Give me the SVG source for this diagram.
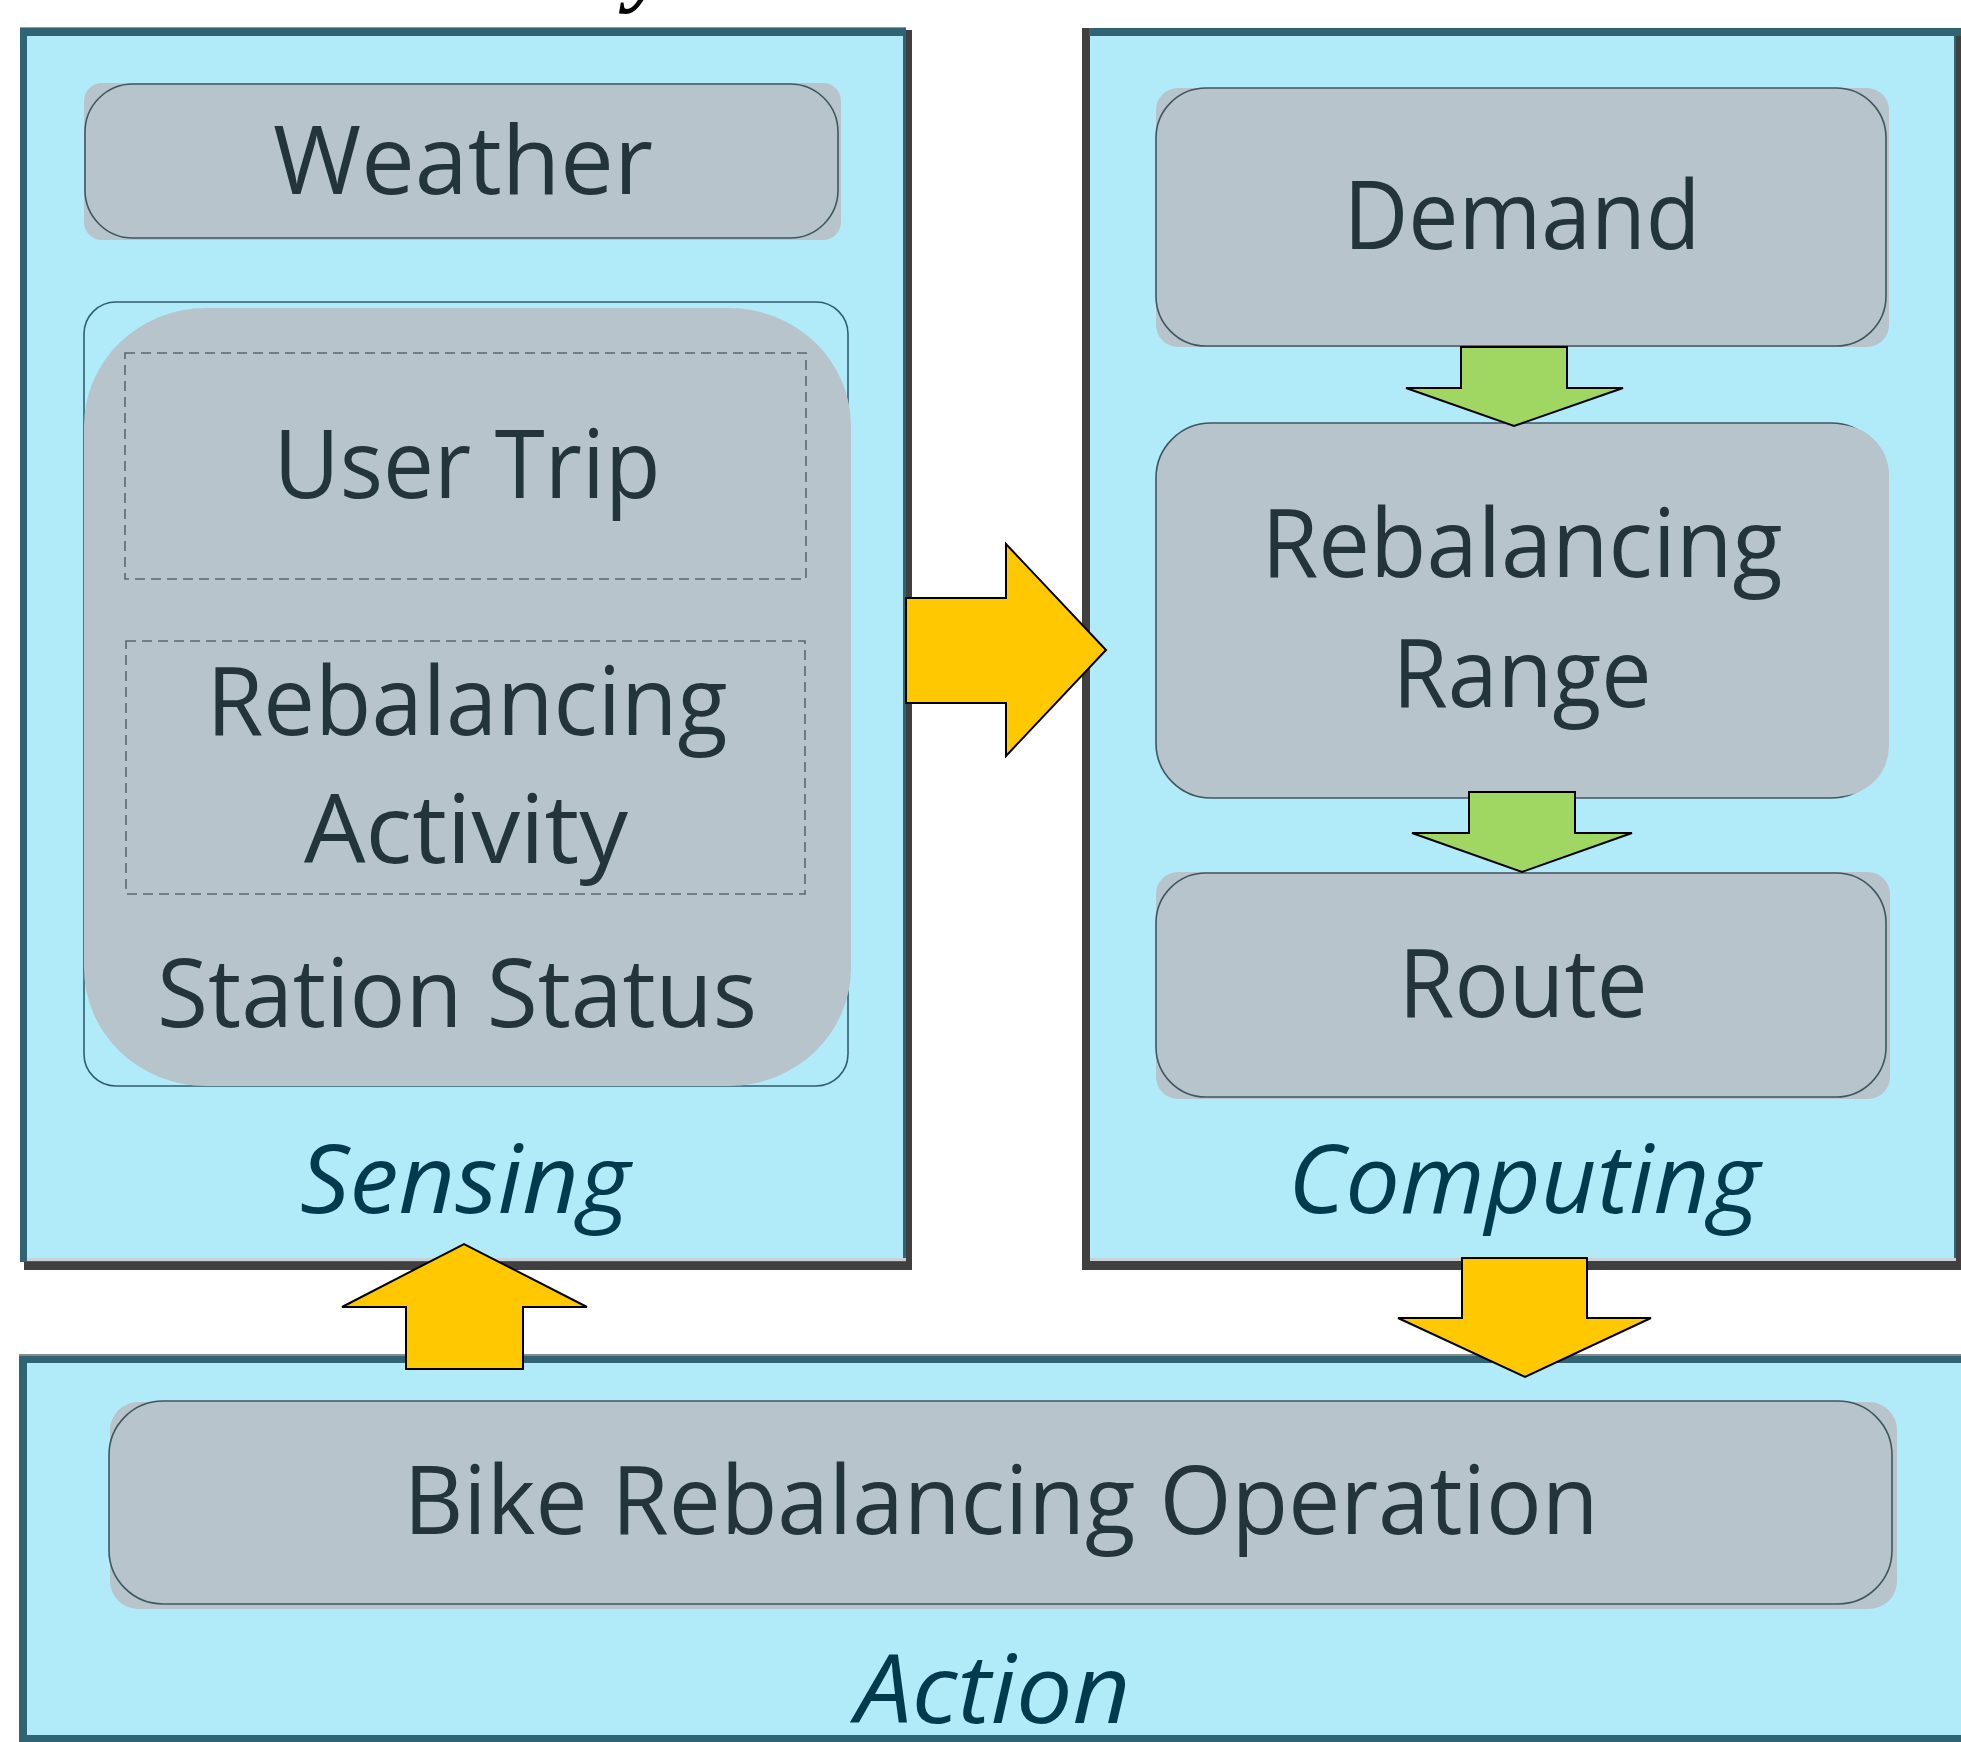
<svg xmlns="http://www.w3.org/2000/svg" width="1961" height="1742" viewBox="0 0 1961 1742">
<style>
.panelfill{fill:#b1ebfa}
.teal{fill:#2e6474}
.shadow{fill:#404040}
.bg{fill:#b7c4cc}
.box{fill:#b7c4cc;stroke:#3f5660;stroke-width:1.6}
.dash{fill:none;stroke:#5a6870;stroke-width:1.6;stroke-dasharray:10 6}
.t{font-family:"Open Sans","Noto Sans","DejaVu Sans",sans-serif;font-size:95px;fill:#24343b;text-anchor:middle}
.lbl{font-family:"Open Sans","Noto Sans","DejaVu Sans",sans-serif;font-size:95px;font-style:italic;fill:#003a4d;text-anchor:middle}
.ya{fill:#ffc800;stroke:#000;stroke-width:2;stroke-linejoin:miter}
.ga{fill:#a0d662;stroke:#000;stroke-width:2;stroke-linejoin:miter}
</style>
<rect x="0" y="0" width="1961" height="1742" fill="#ffffff"/>
<text x="628" y="-5" font-family="'Liberation Serif',serif" font-style="italic" font-weight="bold" font-size="90" fill="#000">y</text>

<!-- Sensing panel -->
<g id="sensing">
  <rect class="shadow" x="24" y="30" width="888" height="1240"/>
  <rect x="20" y="27" width="886" height="2" fill="#9a9a9a"/>
  <rect class="teal" x="20" y="28" width="886" height="1234"/>
  <rect class="panelfill" x="27" y="36" width="876" height="1223"/>
  <rect x="27" y="1258" width="879" height="3" fill="#c9d3d7"/>
  <text class="lbl" x="465" y="1213" textLength="330" lengthAdjust="spacingAndGlyphs">Sensing</text>
</g>

<!-- Computing panel -->
<g id="computing">
  <rect class="shadow" x="1082" y="28" width="879" height="1242"/>
  <rect class="teal" x="1089" y="28" width="872" height="8"/>
  <rect class="panelfill" x="1090" y="36" width="865" height="1222"/>
  <rect x="1090" y="1258" width="866" height="3" fill="#c9d3d7"/>
  <rect class="teal" x="1954" y="36" width="2" height="1222"/>
  <text class="lbl" x="1524" y="1213" textLength="472" lengthAdjust="spacingAndGlyphs">Computing</text>
</g>

<!-- Action panel -->
<g id="action">
  <rect x="19" y="1354" width="1942" height="3" fill="#8a8a8a"/>
  <rect class="teal" x="19" y="1356" width="1942" height="386"/>
  <rect class="panelfill" x="27" y="1363" width="1934" height="372"/>
  <text class="lbl" x="993" y="1723" textLength="275" lengthAdjust="spacingAndGlyphs">Action</text>
</g>

<!-- Weather -->
<g id="weather">
  <rect class="bg" x="84" y="83" width="757" height="157" rx="18"/>
  <rect class="box" x="85" y="84" width="753" height="154" rx="48"/>
  <text class="t" x="463" y="194" textLength="380" lengthAdjust="spacingAndGlyphs">Weather</text>
</g>

<!-- Station Status container -->
<g id="station-status">
  <rect x="84" y="302" width="764" height="784" rx="32" fill="none" stroke="#2f5f6e" stroke-width="1.6"/>
  <rect class="bg" x="84" y="308" width="767" height="778" rx="122" ry="118"/>
  <text class="t" x="457" y="1027" textLength="600" lengthAdjust="spacingAndGlyphs">Station Status</text>
</g>

<!-- User Trip -->
<g id="user-trip">
  <rect class="dash" x="125" y="353" width="681" height="226"/>
  <text class="t" x="467" y="498" textLength="387" lengthAdjust="spacingAndGlyphs">User Trip</text>
</g>

<!-- Rebalancing Activity -->
<g id="rebalancing-activity">
  <rect class="dash" x="126" y="641" width="679" height="253"/>
  <text class="t" x="467" y="735" textLength="521" lengthAdjust="spacingAndGlyphs">Rebalancing</text>
  <text class="t" x="466" y="863" textLength="324" lengthAdjust="spacingAndGlyphs">Activity</text>
</g>

<!-- Demand -->
<g id="demand">
  <rect class="bg" x="1156" y="88" width="733" height="259" rx="22"/>
  <rect class="box" x="1156" y="88" width="730" height="258" rx="50"/>
  <text class="t" x="1522" y="249" textLength="357" lengthAdjust="spacingAndGlyphs">Demand</text>
</g>

<!-- Rebalancing Range -->
<g id="rebalancing-range">
  <rect class="box" x="1156" y="423" width="730" height="375" rx="55" stroke="#2f5f6e"/>
  <rect class="bg" x="1160" y="425" width="729" height="371" rx="50"/>
  <text class="t" x="1522" y="577" textLength="521" lengthAdjust="spacingAndGlyphs">Rebalancing</text>
  <text class="t" x="1522" y="707" textLength="259" lengthAdjust="spacingAndGlyphs">Range</text>
</g>

<!-- Route -->
<g id="route">
  <rect class="bg" x="1156" y="872" width="734" height="227" rx="22"/>
  <rect class="box" x="1156" y="873" width="730" height="224" rx="50"/>
  <text class="t" x="1523" y="1017" textLength="249" lengthAdjust="spacingAndGlyphs">Route</text>
</g>

<!-- Bike Rebalancing Operation -->
<g id="bike-rebalancing-operation">
  <rect class="bg" x="110" y="1402" width="1787" height="207" rx="28"/>
  <rect class="box" x="109" y="1401" width="1783" height="203" rx="54"/>
  <text class="t" x="1001" y="1534" textLength="1195" lengthAdjust="spacingAndGlyphs">Bike Rebalancing Operation</text>
</g>

<!-- Connectors -->
<g id="connectors">
  <polygon class="ya" points="906,598 1006,598 1006,544 1106,650 1006,756 1006,703 906,703"/>
  <polygon class="ya" points="406,1369 406,1307 342,1307 464,1244 587,1307 523,1307 523,1369"/>
  <polygon class="ya" points="1462,1258 1587,1258 1587,1318 1651,1318 1525,1377 1398,1318 1462,1318"/>
  <polygon class="ga" points="1461,347 1567,347 1567,388 1623,388 1514,426 1406,388 1461,388"/>
  <polygon class="ga" points="1469,792 1575,792 1575,833 1632,833 1522,872 1412,833 1469,833"/>
</g>
</svg>
